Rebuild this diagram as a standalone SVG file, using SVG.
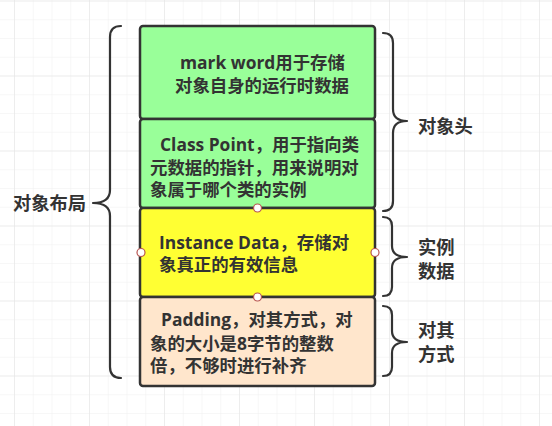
<svg xmlns="http://www.w3.org/2000/svg" width="552" height="426" viewBox="0 0 552 426">
<defs>
<pattern id="minor" x="14" y="0.5" width="18.75" height="18.75" patternUnits="userSpaceOnUse">
<path d="M0,0 H18.75 M0,0 V18.75" fill="none" stroke="#efefef" stroke-width="1"/>
</pattern>
<pattern id="major" x="14" y="0.5" width="75" height="75" patternUnits="userSpaceOnUse">
<path d="M0,0 H75 M0,0 V75" fill="none" stroke="#e3e3e3" stroke-width="1"/>
</pattern>
</defs>
<style>
.box{stroke:#333;stroke-width:2.5}
.t{font-family:"Open Sans","Noto Sans CJK SC",sans-serif;font-weight:bold;font-size:17.4px;fill:#333}
.lbl{font-family:"Noto Sans CJK SC",sans-serif;font-weight:bold;font-size:18.3px;fill:#333}
.brace{fill:none;stroke:#333;stroke-width:2.2;stroke-linecap:round;stroke-linejoin:round}
.pt{fill:#fff;stroke:#b85450;stroke-width:1.2}
</style>
<rect width="552" height="426" fill="#fff"/>
<rect width="552" height="426" fill="url(#minor)"/>
<rect width="552" height="426" fill="url(#major)"/>

<g id="connectors">
<path class="brace" d="M121,26 Q110,26 110,37 L110,190 Q110,203 93,203 Q110,203 110,216 L110,367 Q110,378 121,378"/>
<path class="brace" d="M383,33 Q393,33 393,43 L393,109 Q393,121 407,121 Q393,121 393,133 L393,201 Q393,211 383,211"/>
<path class="brace" d="M383,217 Q392,217 392,226 L392,246 Q392,257 407,257 Q392,257 392,268 L392,287 Q392,296 383,296"/>
<path class="brace" d="M383,306 Q392,306 392,315 L392,331 Q392,342 407,342 Q392,342 392,353 L392,367 Q392,376 383,376"/>
</g>

<g id="node-markword">
<rect class="box" x="140" y="26" width="235" height="93" rx="3" fill="#99ff99"/>
<text class="t" x="180" y="69">mark word用于存储</text>
<text class="t" x="175" y="92">对象自身的运行时数据</text>
</g>

<g id="node-classpoint">
<rect class="box" x="140" y="119" width="235" height="89" rx="3" fill="#99ff99"/>
<text class="t" x="160" y="151">Class Point，用于指向类</text>
<text class="t" x="150" y="174">元数据的指针，用来说明对</text>
<text class="t" x="150" y="196">象属于哪个类的实例</text>
</g>

<g id="node-instancedata">
<rect class="box" x="140" y="208" width="235" height="89" rx="3" fill="#ffff33"/>
<text class="t" x="159" y="249">Instance Data，存储对</text>
<text class="t" x="159" y="271">象真正的有效信息</text>
</g>

<g id="node-padding">
<rect class="box" x="140" y="297" width="235" height="89" rx="3" fill="#ffe6cc"/>
<text class="t" x="161" y="326">Padding，对其方式，对</text>
<text class="t" x="150" y="350">象的大小是8字节的整数</text>
<text class="t" x="150" y="372">倍，不够时进行补齐</text>
</g>

<g id="points">
<circle class="pt" cx="257.5" cy="208" r="4"/>
<circle class="pt" cx="257.5" cy="297" r="4"/>
<circle class="pt" cx="141" cy="252.5" r="4"/>
<circle class="pt" cx="375" cy="252.5" r="4"/>
</g>

<g id="label-layout">
<text class="lbl" x="13" y="209.5">对象布局</text>
</g>
<g id="label-header">
<text class="lbl" x="418" y="132.5">对象头</text>
</g>
<g id="label-instance">
<text class="lbl" x="418" y="253.5">实例</text>
<text class="lbl" x="418" y="277.5">数据</text>
</g>
<g id="label-padding">
<text class="lbl" x="418" y="336.5">对其</text>
<text class="lbl" x="418" y="360.5">方式</text>
</g>
</svg>
